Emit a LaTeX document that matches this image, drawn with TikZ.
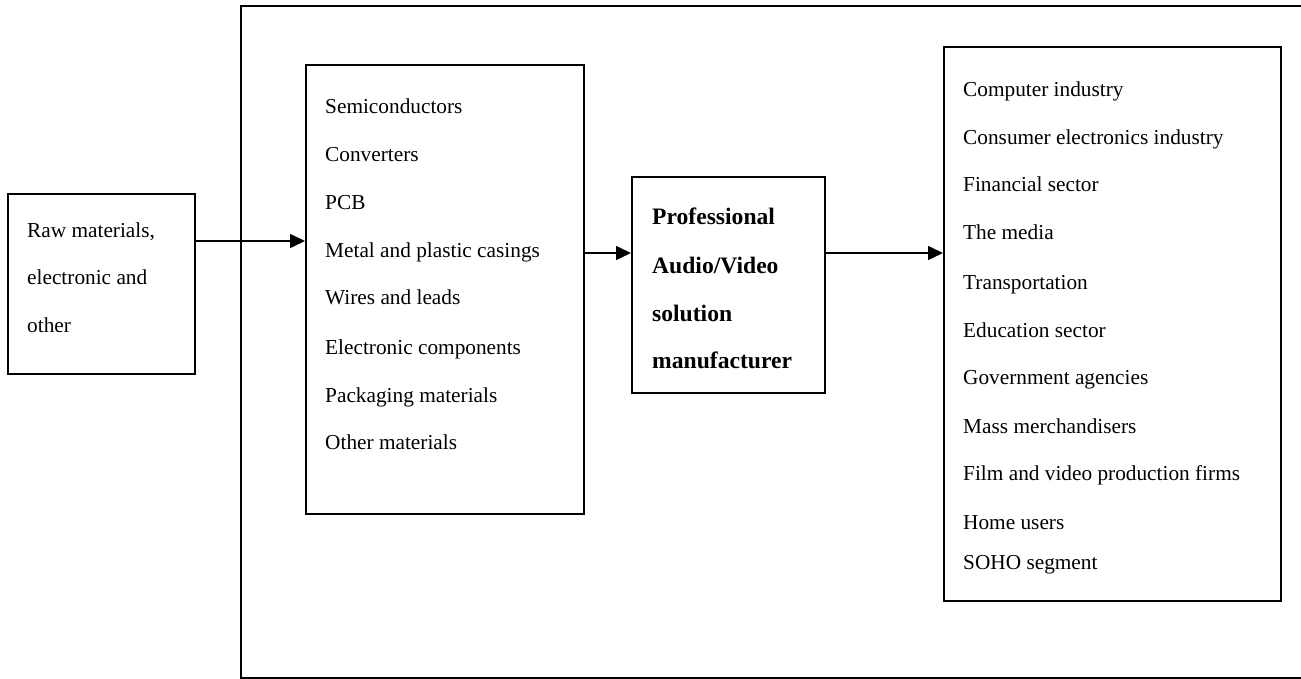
\documentclass[tikz,border=0pt]{standalone}
\usepackage{fontspec}
\setmainfont{Liberation Serif}
\usetikzlibrary{arrows.meta, positioning}

\tikzset{
  box/.style = {draw, line width=1.6pt, rectangle, anchor=north west, inner sep=0pt},
  item/.style = {anchor=base west, inner sep=0pt, font=\fontsize{21.3}{25}\selectfont},
  bolditem/.style = {anchor=base west, inner sep=0pt, font=\fontsize{23.6}{28}\selectfont\bfseries},
  flow/.style = {line width=1.6pt, -{Triangle[length=15pt, width=14pt]}}
}

\begin{document}
\begin{tikzpicture}[x=1pt, y=-1pt]
  \useasboundingbox (0,0) rectangle (1301,679);

  % outer frame (runs off the right edge)
  \draw[line width=1.8pt] (1320,6) -- (241,6) -- (241,678) -- (1320,678);

  % boxes
  \node[box, minimum width=187pt, minimum height=180pt] (raw)  at (7,193)   {};
  \node[box, minimum width=278pt, minimum height=449pt] (comp) at (305,64)  {};
  \node[box, minimum width=193pt, minimum height=216pt] (manu) at (631,176) {};
  \node[box, minimum width=337pt, minimum height=554pt] (mkt)  at (943,46)  {};

  % texts
  \foreach \txt/\yy [count=\i] in {{Raw materials,}/237, electronic and/284, other/332}
    \node[item] (raw\i) at (27,\yy) {\txt};

  \foreach \txt/\yy [count=\i] in {Semiconductors/114, Converters/162, PCB/210,
      Metal and plastic casings/257, Wires and leads/304, Electronic components/354,
      Packaging materials/402, Other materials/449}
    \node[item] (comp\i) at (325,\yy) {\txt};

  \foreach \txt/\yy [count=\i] in {Professional/225, {Audio/Video}/273, solution/321,
      manufacturer/368}
    \node[bolditem] (manu\i) at (652,\yy) {\txt};

  \foreach \txt/\yy [count=\i] in {Computer industry/97, Consumer electronics industry/145,
      Financial sector/192, The media/240, Transportation/289, Education sector/337,
      Government agencies/384, Mass merchandisers/433, Film and video production firms/480,
      Home users/529, SOHO segment/569}
    \node[item] (mkt\i) at (963,\yy) {\txt};

  % connectors
  \coordinate (f1) at (0,241);
  \coordinate (f2) at (0,253);
  \draw[flow] (raw.east |- f1)  -- (comp.west |- f1);
  \draw[flow] (comp.east |- f2) -- (manu.west |- f2);
  \draw[flow] (manu.east |- f2) -- (mkt.west |- f2);
\end{tikzpicture}
\end{document}
